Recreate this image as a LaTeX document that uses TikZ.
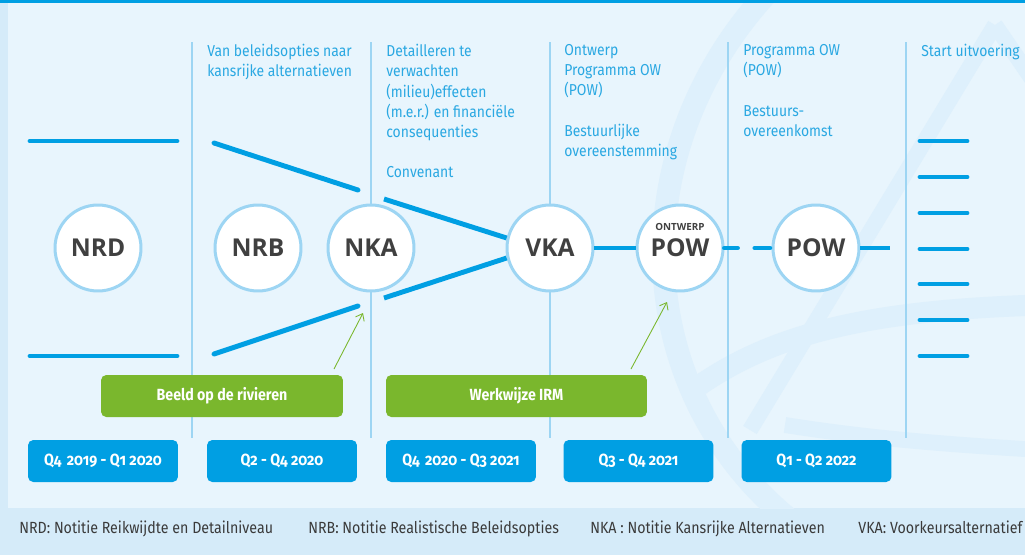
\documentclass[tikz,border=0pt]{standalone}
\usepackage{fontspec}
\usepackage{xcolor}
\setmainfont{Fira Sans}[Numbers=OldStyle, FakeStretch=0.88]
\newfontfamily\circfont{Open Sans}
\usetikzlibrary{positioning, arrows.meta}

\definecolor{mainblue}{HTML}{009FE3}
\definecolor{sepblue}{HTML}{9DD5F3}
\definecolor{textblue}{HTML}{2AA8E2}
\definecolor{leafgreen}{HTML}{7AB72D}
\definecolor{panelblue}{HTML}{E8F5FD}
\definecolor{outerblue}{HTML}{D5EBF9}
\definecolor{markblue}{HTML}{DEF0FC}
\definecolor{circgray}{HTML}{404040}
\definecolor{legendgray}{HTML}{3A3A3A}

\begin{document}
\begin{tikzpicture}[x=0.02cm, y=-0.02cm,
    phase/.style={circle, draw=sepblue, line width=1.7pt, fill=white,
        minimum size=1.72cm, inner sep=0pt, text=circgray,
        font=\circfont\bfseries\fontsize{14}{14}\selectfont},
    route/.style={draw=mainblue, line width=2.8pt, line cap=round},
    sep/.style={draw=sepblue, line width=1.1pt},
    period/.style={fill=mainblue, rounded corners=3pt, text=white,
        minimum width=3cm, minimum height=0.84cm, inner sep=0pt,
        font=\bfseries\fontsize{9.2}{10}\selectfont},
    product/.style={fill=leafgreen, rounded corners=3pt, text=white,
        minimum height=0.84cm, inner sep=0pt,
        font=\bfseries\fontsize{9.2}{10}\selectfont},
    steptext/.style={anchor=north west, align=left, text=textblue, inner sep=0pt,
        font=\fontsize{9}{11.5}\selectfont},
    legend/.style={anchor=base west, text=legendgray, inner sep=0pt,
        font=\fontsize{9.2}{11}\selectfont},
    hint/.style={draw=leafgreen, line width=0.5pt, -{Straight Barb[length=3.5pt, width=5.5pt]}}
]
    \useasboundingbox (0,0) rectangle (1025,555);

    % Background
    \fill[outerblue] (0,0) rectangle (1025,555);
    \fill[panelblue] (8,3) rectangle (1025,508);
    \fill[mainblue] (0,0) rectangle (1025,3);
    \begin{scope}
        \clip (8,3) rectangle (1025,508);
        \draw[markblue, line width=13pt] (770,-10) .. controls (620,150) and (630,390) .. (790,520);
        \draw[markblue, line width=9pt] (995,25) -- (750,430);
        \draw[markblue, line width=9pt] (995,25) -- (1060,120);
        \draw[markblue, line width=12pt] (700,385) .. controls (780,330) and (880,310) .. (1040,305);
        \draw[markblue, line width=9pt] (785,425) .. controls (880,440) and (960,445) .. (1040,450);
    \end{scope}

    % Phase separators
    \foreach \x in {192,371,550,728,906}
        \draw[sep] (\x,42) -- (\x,438);

    % Phase descriptions
    \node[steptext] (desc1) at (207,44) {Van beleidsopties naar\\kansrijke alternatieven};
    \node[steptext] (desc2) at (386,44) {Detailleren te\\verwachten\\(milieu)effecten\\(m.e.r.) en financiële\\consequenties\\[11.5pt]Convenant};
    \node[steptext] (desc3) at (564,44) {Ontwerp\\Programma OW\\(POW)\\[11.5pt]Bestuurlijke\\overeenstemming};
    \node[steptext] (desc4) at (743,44) {Programma OW\\(POW)\\[11.5pt]Bestuurs-\\overeenkomst};
    \node[steptext] (desc5) at (921,44) {Start uitvoering};

    % Routes
    \coordinate (nrdtopL) at (30,141);   \coordinate (nrdtopR) at (177,141);
    \coordinate (nrdbotL) at (30,356);   \coordinate (nrdbotR) at (177,356);
    \coordinate (nrbtopL) at (214,143);  \coordinate (nrbtopR) at (358,190);
    \coordinate (nrbbotL) at (214,354);  \coordinate (nrbbotR) at (358,306);
    \coordinate (nkatop) at (384,199);   \coordinate (nkabot) at (384,298);
    \coordinate (powend) at (890,248);
    \draw[route] (nrdtopL) -- (nrdtopR);
    \draw[route] (nrdbotL) -- (nrdbotR);
    \draw[route] (nrbtopL) -- (nrbtopR);
    \draw[route] (nrbbotL) -- (nrbbotR);

    % Phases
    \node[phase] (nrd) at (98,248) {NRD};
    \node[phase] (nrb) at (258,248) {NRB};
    \node[phase] (nka) at (371,248) {NKA};
    \node[phase] (vka) at (550,248) {VKA};
    \node[phase] (opow) at (680,248) {\raisebox{1pt}{POW}};
    \node[text=circgray, font=\circfont\bfseries\fontsize{5.6}{6}\selectfont] (opowtag) at (680,227) {ONTWERP};
    \node[phase] (pow) at (816,248) {POW};

    \draw[route, line cap=butt] (nkatop) -- (vka.167);
    \draw[route, line cap=butt] (nkabot) -- (vka.193);
    \draw[route, line cap=butt] (vka) -- (opow);
    \draw[route, dash pattern=on 7.4pt off 9.9pt on 8.5pt off 20pt] (opow) -- (pow);
    \draw[route, line cap=butt] (pow) -- (powend);

    % Execution
    \foreach \y in {141,177,213,249,284,320,356}
        \draw[route] (920,\y) -- (967,\y);

    % Products
    \node[product, minimum width=4.84cm] (beeld) at (222,396) {Beeld op de rivieren};
    \node[product, minimum width=5.22cm] (irm) at (516.5,396) {Werkwijze IRM};
    \coordinate (beeldtip) at (363,313);
    \coordinate (irmtip) at (667,302);
    \draw[hint] (334,369) -- (beeldtip);
    \draw[hint] (631,369) -- (irmtip);

    % Periods
    \node[period] (p1) at (103,461) {Q4\,\,2019 - Q1 2020};
    \node[period] (p2) at (282,461) {Q2 - Q4 2020};
    \node[period] (p3) at (461,461) {Q4\,\,2020 - Q3 2021};
    \node[period] (p4) at (638.5,461) {Q3 - Q4 2021};
    \node[period] (p5) at (816.5,461) {Q1 - Q2 2022};

    % Legend
    \node[legend] (lnrd) at (19,533) {NRD: Notitie Reikwijdte en Detailniveau};
    \node[legend] (lnrb) at (308,533) {NRB: Notitie Realistische Beleidsopties};
    \node[legend] (lnka) at (590,533) {NKA : Notitie Kansrijke Alternatieven};
    \node[legend] (lvka) at (858,533) {VKA: Voorkeursalternatief};
\end{tikzpicture}
\end{document}
